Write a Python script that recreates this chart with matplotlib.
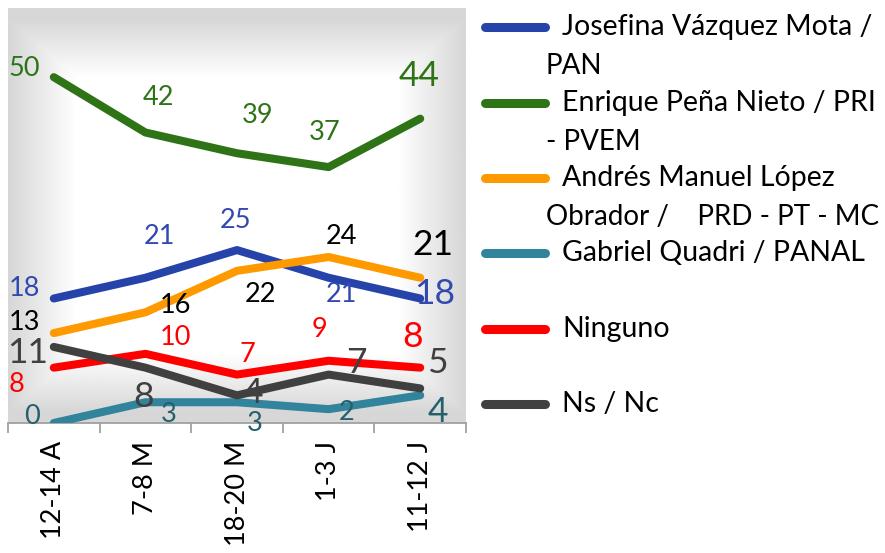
import numpy as np
import matplotlib
matplotlib.use('Agg')
import matplotlib.pyplot as plt
from matplotlib.lines import Line2D

plt.rcParams['font.family'] = ['Lato', 'DejaVu Sans']

dates = ['12-14 A', '7-8 M', '18-20 M', '1-3 J', '11-12 J']
names = ['Josefina Vázquez Mota /\nPAN',
         'Enrique Peña Nieto / PRI\n- PVEM',
         'Andrés Manuel López\nObrador /    PRD - PT - MC',
         'Gabriel Quadri / PANAL',
         'Ninguno',
         'Ns / Nc']
jvm = [18, 21, 25, 21, 18]
epn = [50, 42, 39, 37, 44]
amlo = [13, 16, 22, 24, 21]
gq = [0, 3, 3, 2, 4]
ninguno = [8, 10, 7, 9, 8]
nsnc = [11, 8, 4, 7, 5]
series = [jvm, epn, amlo, gq, ninguno, nsnc]

line_colors = ['#2543A9', '#2E7417', '#FF9900', '#31849B', '#FF0000', '#404040']
label_colors = ['#3349B0', '#2E7417', '#000000', '#25606F', '#FF0000', '#404040']

# label offsets in pixels (dx right, dy down) for each point
offsets = [
    [(-29, -10), (14, -41), (-2, -30), (13, 17), (15, -4)],
    [(-30, -9), (13, -35), (21, -38), (-4, -35), (-1, -43)],
    [(-29, -11), (30, -7), (23, 24), (13, -20), (13, -33)],
    [(-22, -7), (23, 12), (18, 21), (18, 3), (18, 17)],
    [(-37, 17), (30, -16), (10, -20), (-9, -31), (-8, -31)],
    [(-26, 6), (-2, 29), (16, -2), (28, -12), (18, -25)],
]

fig = plt.figure(figsize=(8.85, 5.53), dpi=100)
ax = fig.add_axes([8 / 885, 1 - 423 / 553, 458 / 885, 415 / 553])

x = np.arange(len(dates))
ax.set_xlim(-0.5, len(dates) - 0.5)
ax.set_ylim(0, 60)

# soft gray-to-white background of the plot area
u = np.abs(np.linspace(-1, 1, 400))
v = np.abs(np.linspace(-1, 1, 300))
t = np.maximum(u[None, :] * 1.0, v[:, None] * 1.05)
t = np.clip((t - 0.7) / 0.3, 0, 1)
bg = 1 - 0.16 * t
ax.imshow(bg, cmap='gray', vmin=0, vmax=1, extent=[-0.5, len(dates) - 0.5, 0, 60],
          aspect='auto', zorder=0, interpolation='bilinear')

for vals, lc, tc, offs in zip(series, line_colors, label_colors, offsets):
    ax.plot(x, vals, color=lc, lw=5.8, solid_capstyle='round',
            solid_joinstyle='round', zorder=3)
    for i, val in enumerate(vals):
        big = (i == len(vals) - 1) or lc == '#404040'
        ax.annotate(str(val), (x[i], val), xytext=(offs[i][0], -offs[i][1]),
                    textcoords='offset pixels', ha='center', va='center',
                    color=tc, fontsize=25.5 if big else 19.5, zorder=4,
                    annotation_clip=False)

for s in ['top', 'left', 'right']:
    ax.spines[s].set_visible(False)
ax.spines['bottom'].set_color('#a0a0a0')
ax.spines['bottom'].set_linewidth(1.3)
ax.set_yticks([])
ax.set_xticks(np.arange(-0.5, len(dates), 1.0))
ax.set_xticklabels([])
ax.tick_params(axis='x', which='major', length=7.2, width=1.3, color='#a0a0a0', direction='out')
ax.set_xticks(x, minor=True)
ax.set_xticklabels(dates, minor=True, rotation=90, fontsize=19.5)
ax.tick_params(axis='x', which='minor', length=0, pad=13)

# legend drawn by hand (wrapped entries like the original)
W, H = 885, 553
ys = [27, 103, 178, 253, 329, 404]
for name, lc, yy in zip(names, line_colors, ys):
    fig.add_artist(Line2D([485 / W, 545 / W], [1 - yy / H, 1 - yy / H], color=lc,
                          lw=6.5, solid_capstyle='round'))
    parts = name.split('\n')
    fig.text(562 / W, 1 - yy / H, parts[0], fontsize=20.5, va='center', ha='left')
    if len(parts) > 1:
        fig.text(546 / W, 1 - (yy + 39) / H, parts[1], fontsize=20, va='center', ha='left')

fig.savefig('out.png', dpi=100)
